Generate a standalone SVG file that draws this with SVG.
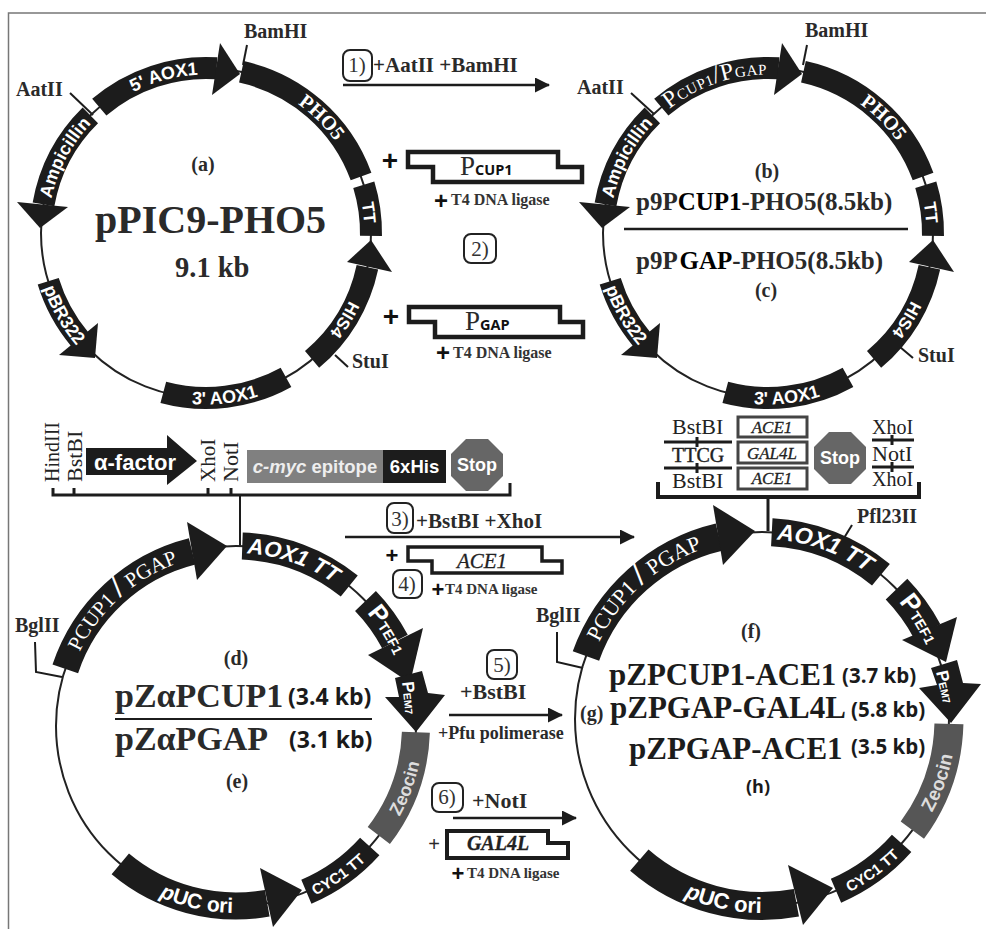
<svg xmlns="http://www.w3.org/2000/svg" width="986" height="929" viewBox="0 0 986 929">
<style>
text{font-family:"Liberation Serif","Times New Roman",serif;fill:#2a2a2a}
.b{font-weight:700}
.site{font-weight:700;font-size:20px}
.reg{font-weight:400;font-size:22px;fill:#222}
.ab{font-weight:700;font-size:20px;text-anchor:middle}
.big{font-weight:700;font-size:31px;fill:#1c1c1c}
.kb{font-family:"Open Sans","Liberation Sans",sans-serif;font-weight:700;fill:#1a1a1a}
.step{font-weight:700;font-size:21px}
.num{font-size:21px;text-anchor:middle;fill:#333}
.lig{font-weight:700;font-size:16px;fill:#333}
.plus{font-family:"Liberation Sans",Arial,sans-serif;font-weight:700;font-size:28px;text-anchor:middle;fill:#111}
.frag-t{font-style:italic;font-size:21px;text-anchor:middle;fill:#222;stroke:#222;stroke-width:.3}
.os{font-family:"Open Sans","Liberation Sans",sans-serif;font-weight:700;fill:#111}
.ring{fill:none;stroke:#222;stroke-width:2}
.band{fill:none;stroke:#1c1c1c}
.zeo{fill:none;stroke:#565656}
.head{fill:#1c1c1c;stroke:none}
.w{font-family:"Liberation Sans",Arial,sans-serif;font-weight:700;fill:#fff;text-anchor:middle}
.ws{font-family:"Liberation Serif","Times New Roman",serif;font-weight:400;fill:#fff;text-anchor:middle}
.wb{font-family:"Liberation Serif","Times New Roman",serif;font-weight:700;fill:#fff;text-anchor:middle}
.line{stroke:#1c1c1c;stroke-width:2;fill:none}
.rule{stroke:#1c1c1c;stroke-width:3;fill:none}
.arrow{stroke:#1c1c1c;stroke-width:2.5;fill:none;marker-end:url(#tip)}
.badge{fill:none;stroke:#222;stroke-width:2}
.frag{fill:#fff;stroke:#1c1c1c;stroke-width:4.5}
.box{fill:#fff;stroke:#444;stroke-width:3}
.stop{fill:#666}
</style>
<defs>
<marker id="tip" markerUnits="userSpaceOnUse" markerWidth="16" markerHeight="16" refX="14" refY="7.5" orient="auto"><path d="M0,0 L15,7.5 L0,15 Z" fill="#1c1c1c"/></marker>
<path id="cwA" d="M0,158.5 A158.5,158.5 0 1 1 0,-158.5 A158.5,158.5 0 1 1 0,158.5"/>
<path id="ccA" d="M0,-171.5 A171.5,171.5 0 1 0 0,171.5 A171.5,171.5 0 1 0 0,-171.5"/>
<path id="cwD" d="M0,173 A173,173 0 1 1 0,-173 A173,173 0 1 1 0,173"/>
<path id="ccD" d="M0,-187 A187,187 0 1 0 0,187 A187,187 0 1 0 0,-187"/>
<path id="cwF" d="M0,180 A180,180 0 1 1 0,-180 A180,180 0 1 1 0,180"/>
<path id="ccF" d="M0,-194 A194,194 0 1 0 0,194 A194,194 0 1 0 0,-194"/>
</defs>
<rect width="986" height="929" fill="#fff"/>
<path d="M986,13 H8.500 V929" fill="none" stroke="#777" stroke-width="1.500"/>

<g id="connectors">
<line class="arrow" x1="343" y1="85" x2="549" y2="85"/>
<line class="arrow" x1="345" y1="537" x2="634" y2="537"/>
<line class="arrow" x1="449" y1="715" x2="562" y2="715"/>
<line class="arrow" x1="453" y1="818" x2="576" y2="818"/>
<path class="rule" d="M53,488 V495 H510 V483 M74,488 V495 M208,488 V495 M231,488 V495"/>
<line class="line" x1="240" y1="495" x2="240" y2="546"/>
<path class="rule" style="stroke-width:4" d="M658,482 V497 H919 V482"/>
<line class="rule" x1="768" y1="497" x2="768" y2="531"/>
<path class="line" d="M35,642 L36,672 L62,677"/>
<path class="line" d="M557,632 L557,662 L583,668"/>
<line class="line" x1="70" y1="93" x2="93" y2="115"/>
<line class="line" x1="247" y1="45" x2="243" y2="65"/>
<line class="line" x1="335" y1="355" x2="348" y2="367"/>
<line class="line" x1="631" y1="93" x2="654" y2="114"/>
<line class="line" x1="807" y1="45" x2="803" y2="65"/>
<line class="line" x1="900" y1="347" x2="913" y2="358"/>
<line class="line" x1="852" y1="525" x2="844" y2="538"/>
</g>

<g id="plasmid-a" transform="translate(206,233)">
<circle class="ring" r="165"/>
<g id="a-5aox1"><circle class="band" r="165" stroke-width="22" pathLength="360" stroke-dasharray="44 360" transform="rotate(229.700)"/><polygon class="head" points="14,-190 34,-159 6,-138"/><text class="w" font-size="18"><textPath href="#cwA" startOffset="45.800%">5' AOX1</textPath></text></g>
<g id="a-pho5"><circle class="band" r="165" stroke-width="22" pathLength="360" stroke-dasharray="57.600 360" transform="rotate(-77.600)"/><text class="wb" font-size="20"><textPath href="#cwA" startOffset="62.500%">PHO5</textPath></text></g>
<g id="a-tt"><circle class="band" r="165" stroke-width="22" pathLength="360" stroke-dasharray="18 360" transform="rotate(-17)"/><text class="w" font-size="17"><textPath href="#cwA" startOffset="73%">TT</textPath></text></g>
<g id="a-his4"><circle class="band" r="165" stroke-width="22" pathLength="360" stroke-dasharray="38 360" transform="rotate(12)"/><polygon class="head" points="165,7 141,29 186,39"/><text class="w" font-size="17"><textPath href="#cwA" startOffset="83.900%">HIS4</textPath></text></g>
<g id="a-3aox1"><circle class="band" r="165" stroke-width="22" pathLength="360" stroke-dasharray="44 360" transform="rotate(61)"/><text class="w" font-size="18"><textPath href="#ccA" startOffset="51.800%">3' AOX1</textPath></text></g>
<g id="a-pbr322"><circle class="band" r="165" stroke-width="22" pathLength="360" stroke-dasharray="23 360" transform="rotate(140)"/><polygon class="head" points="-108,90 -111,125 -147,122"/><text class="w" font-size="18"><textPath href="#ccA" startOffset="33.300%">pBR322</textPath></text></g>
<g id="a-amp"><circle class="band" r="165" stroke-width="22" pathLength="360" stroke-dasharray="35.500 360" transform="rotate(190)"/><polygon class="head" points="-189,-31 -166,-5 -138,-26"/><text class="w" font-size="18"><textPath href="#cwA" startOffset="32.800%">Ampicillin</textPath></text></g>
</g>
<g id="labels-a">
<text class="site" x="244" y="38">BamHI</text>
<text class="site" x="16" y="96">AatII</text>
<text class="site" x="352" y="368">StuI</text>
<text class="ab" x="203" y="171">(a)</text>
<text class="b" x="95" y="233" font-size="40">pPIC9-PHO5</text>
<text class="b" x="175" y="277" font-size="28.500">9.1 kb</text>
</g>

<g id="plasmid-b" transform="translate(768,233)">
<circle class="ring" r="165"/>
<g id="b-promoter"><circle class="band" r="165" stroke-width="22" pathLength="360" stroke-dasharray="44 360" transform="rotate(229.700)"/><polygon class="head" points="14,-190 34,-159 6,-138"/><text class="ws" font-size="15" letter-spacing=".5"><textPath href="#cwA" startOffset="44.600%"><tspan font-size="24">P</tspan>CUP1<tspan font-size="26">/</tspan><tspan font-size="24">P</tspan>GAP</textPath></text></g>
<g id="b-pho5"><circle class="band" r="165" stroke-width="22" pathLength="360" stroke-dasharray="57.600 360" transform="rotate(-77.600)"/><text class="wb" font-size="20"><textPath href="#cwA" startOffset="62.500%">PHO5</textPath></text></g>
<g id="b-tt"><circle class="band" r="165" stroke-width="22" pathLength="360" stroke-dasharray="18 360" transform="rotate(-17)"/><text class="w" font-size="17"><textPath href="#cwA" startOffset="73%">TT</textPath></text></g>
<g id="b-his4"><circle class="band" r="165" stroke-width="22" pathLength="360" stroke-dasharray="38 360" transform="rotate(12)"/><polygon class="head" points="165,7 141,29 186,39"/><text class="w" font-size="17"><textPath href="#cwA" startOffset="83.900%">HIS4</textPath></text></g>
<g id="b-3aox1"><circle class="band" r="165" stroke-width="22" pathLength="360" stroke-dasharray="44 360" transform="rotate(61)"/><text class="w" font-size="18"><textPath href="#ccA" startOffset="51.800%">3' AOX1</textPath></text></g>
<g id="b-pbr322"><circle class="band" r="165" stroke-width="22" pathLength="360" stroke-dasharray="23 360" transform="rotate(140)"/><polygon class="head" points="-108,90 -111,125 -147,122"/><text class="w" font-size="18"><textPath href="#ccA" startOffset="33.300%">pBR322</textPath></text></g>
<g id="b-amp"><circle class="band" r="165" stroke-width="22" pathLength="360" stroke-dasharray="35.500 360" transform="rotate(190)"/><polygon class="head" points="-189,-31 -166,-5 -138,-26"/><text class="w" font-size="18"><textPath href="#cwA" startOffset="32.800%">Ampicillin</textPath></text></g>
</g>
<g id="labels-b">
<text class="site" x="805" y="37">BamHI</text>
<text class="site" x="577" y="94">AatII</text>
<text class="site" x="918" y="362">StuI</text>
<text class="ab" x="767" y="178">(b)</text>
<text class="b" x="636" y="210" font-size="25">p9P<tspan fill="#000">CUP1</tspan>-PHO5(8.5kb)</text>
<line class="line" style="stroke-width:2.500" x1="624" y1="229" x2="908" y2="229"/>
<text class="b" x="636" y="269" font-size="25">p9P <tspan fill="#000" dx="-3">GAP</tspan>-PHO5(8.5kb)</text>
<text class="ab" x="766" y="297">(c)</text>
</g>

<g id="step-1">
<rect class="badge" x="343" y="50" width="29" height="31" rx="7"/>
<text class="num" x="357" y="72">1)</text>
<text class="step" x="373" y="72">+AatII +BamHI</text>
</g>
<g id="fragment-pcup1">
<text class="plus" x="390" y="170">+</text>
<polygon class="frag" points="408,152 558,152 558,167 582,167 582,182 433,182 433,167 408,167"/>
<text x="460" y="175" font-size="27" fill="#333">P</text>
<text class="os" x="475" y="175" font-size="14.500">CUP1</text>
<text class="plus" x="441" y="209" style="font-size:24px">+</text>
<text class="lig" x="451" y="205">T4 DNA ligase</text>
</g>
<g id="step-2">
<rect class="badge" x="464" y="234" width="32" height="29" rx="7"/>
<text class="num" x="480" y="256">2)</text>
</g>
<g id="fragment-pgap">
<text class="plus" x="391" y="326">+</text>
<polygon class="frag" points="409,307 560,307 560,322 583,322 583,337 435,337 435,322 409,322"/>
<text x="465" y="330" font-size="27" fill="#333">P</text>
<text class="os" x="480" y="330" font-size="14.500">GAP</text>
<text class="plus" x="443" y="361" style="font-size:24px">+</text>
<text class="lig" x="453" y="358">T4 DNA ligase</text>
</g>

<g id="cassette-d">
<g id="d-sites">
<text class="reg" style="font-size:20px" transform="translate(59,482) rotate(-90)">HindIII</text>
<text class="reg" transform="translate(82,482) rotate(-90)">BstBI</text>
<text class="reg" style="font-size:21px" transform="translate(215,482) rotate(-90)">XhoI</text>
<text class="reg" transform="translate(238,482) rotate(-90)">NotI</text>
</g>
<g id="d-alpha"><polygon class="head" points="86,448 167,448 167,435 197,461 167,485 167,475 86,475"/><text class="w" x="135" y="470" font-size="22">α-factor</text></g>
<g id="d-myc"><rect x="247" y="450" width="136" height="33" fill="#808080"/><text class="w" x="315" y="473" font-size="18.500" style="fill:#eee"><tspan font-style="italic">c-myc</tspan> epitope</text></g>
<g id="d-his"><rect x="383" y="450" width="63" height="33" fill="#1c1c1c"/><text class="w" x="414.500" y="473" font-size="18.500">6xHis</text></g>
<g id="d-stop"><polygon class="stop" points="466,439 488,439 503,454 503,476 488,491 466,491 451,476 451,454"/><text class="w" x="477" y="471" font-size="18">Stop</text></g>
</g>

<g id="plasmid-d" transform="translate(236,726)">
<circle class="ring" r="180"/>
<g id="d-promoter"><circle class="band" r="180" stroke-width="27" pathLength="360" stroke-dasharray="57.400 360" transform="rotate(198.500)"/><polygon class="head" points="-49,-204 -9,-180 -39,-146"/><text class="ws" font-size="21"><textPath href="#cwD" startOffset="38.300%">PCUP1 <tspan font-size="32" font-weight="700">/</tspan> PGAP</textPath></text></g>
<g id="d-aox1tt"><circle class="band" r="180" stroke-width="27" pathLength="360" stroke-dasharray="37 360" transform="rotate(-88)"/><text class="w" font-size="22" font-style="italic"><textPath href="#cwD" startOffset="55.300%">AOX1 TT</textPath></text></g>
<g id="d-ptef1"><circle class="band" r="180" stroke-width="29" pathLength="360" stroke-dasharray="16 360" transform="rotate(-44)"/><polygon class="head" points="187,-98 174,-43 132,-71"/><text class="w" font-size="14"><textPath href="#cwD" startOffset="66%"><tspan font-size="25">P</tspan>TEF1</textPath></text></g>
<g id="d-pem7"><polygon class="head" points="159,-48 186,-55 192,-33 209,-31 180,6 149,-29 163,-29"/><text class="w" font-size="10.500" style="text-anchor:start" transform="translate(166,-44) rotate(84)"><tspan font-size="17">P</tspan>EM7</text></g>
<g id="d-zeocin"><circle class="zeo" r="180" stroke-width="28" pathLength="360" stroke-dasharray="35.500 360" transform="rotate(2)"/><text class="w" font-size="18" style="fill:#ddd"><textPath href="#ccD" startOffset="69.400%">Zeocin</textPath></text></g>
<g id="d-cyc1"><circle class="band" r="180" stroke-width="26" pathLength="360" stroke-dasharray="25 360" transform="rotate(42)"/><text class="w" font-size="15"><textPath href="#ccD" startOffset="59.600%">CYC1 TT</textPath></text></g>
<g id="d-puc"><circle class="band" r="180" stroke-width="27" pathLength="360" stroke-dasharray="50 360" transform="rotate(80)"/><polygon class="head" points="24,142 66,164 37,201"/><text class="w" font-size="21"><textPath href="#ccD" startOffset="46.500%"><tspan font-style="italic">p</tspan>UC ori</textPath></text></g>
</g>
<g id="labels-d">
<text class="site" x="15" y="632">BglII</text>
<text class="ab" x="236" y="665">(d)</text>
<text class="b" x="115" y="707" font-size="34">pZαPCUP1</text>
<text class="kb" x="288" y="705" font-size="23">(3.4 kb)</text>
<line class="line" x1="115" y1="719" x2="372" y2="719"/>
<text class="b" x="115" y="750" font-size="34">pZαPGAP</text>
<text class="kb" x="289" y="748" font-size="23">(3.1 kb)</text>
<text class="ab" x="237" y="788">(e)</text>
</g>

<g id="step-3">
<rect class="badge" x="387" y="503" width="26" height="30" rx="7"/>
<text class="num" x="400" y="526">3)</text>
<text class="step" x="416" y="528">+BstBI +XhoI</text>
</g>
<g id="fragment-ace1">
<text class="plus" x="392" y="563" style="font-size:22px">+</text>
<polygon class="frag" style="stroke-width:3.500" points="408,547 542,547 542,561 562,561 562,573 432,573 432,561 408,561"/>
<text class="frag-t" x="482" y="568">ACE1</text>
</g>
<g id="step-4">
<rect class="badge" x="393" y="570" width="29" height="28" rx="7"/>
<text class="num" x="407" y="591">4)</text>
<text class="plus" x="438" y="597" style="font-size:22px">+</text>
<text class="lig" x="445" y="594" style="font-size:15px">T4 DNA ligase</text>
</g>
<g id="step-5">
<rect class="badge" x="487" y="650" width="30" height="29" rx="7"/>
<text class="num" x="502" y="672">5)</text>
<text class="step" x="460" y="699" style="font-size:22px">+BstBI</text>
<text class="b" x="438" y="739" font-size="18">+Pfu polimerase</text>
</g>
<g id="step-6">
<rect class="badge" x="432" y="783" width="31" height="29" rx="7"/>
<text class="num" x="447" y="804">6)</text>
<text class="step" x="472" y="808" style="font-size:22px">+NotI</text>
</g>
<g id="fragment-gal4l">
<text x="434" y="851" font-size="20" text-anchor="middle" style="font-family:'Liberation Sans',sans-serif">+</text>
<polygon class="frag" style="stroke-width:4" points="447,831 548,831 548,843 568,843 568,858 447,858"/>
<text class="frag-t" x="498" y="850" style="font-weight:700;font-size:20px">GAL4L</text>
<text class="plus" x="458" y="881" style="font-size:22px">+</text>
<text class="lig" x="467" y="878" style="font-size:15px">T4 DNA ligase</text>
</g>

<g id="cassette-f">
<text class="reg" x="672" y="434">BstBI</text>
<path class="rule" d="M664,442 H732 M697,437 V447"/>
<text class="reg" x="672" y="462" style="font-size:20px;stroke:#222;stroke-width:.4">TTCG</text>
<path class="rule" d="M664,468 H732 M697,463 V473"/>
<text class="reg" x="672" y="488">BstBI</text>
<g id="f-ace1-a"><rect class="box" x="738" y="417" width="69" height="20"/><text class="frag-t" x="772" y="433" style="font-size:17px">ACE1</text></g>
<g id="f-gal4l"><rect class="box" x="738" y="442" width="69" height="21"/><text class="frag-t" x="772" y="459" style="font-size:17px">GAL4L</text></g>
<g id="f-ace1-b"><rect class="box" x="738" y="468" width="69" height="21"/><text class="frag-t" x="772" y="484" style="font-size:17px">ACE1</text></g>
<g id="f-stop"><polygon class="stop" points="829,432 851,432 866,447 866,469 851,484 829,484 814,469 814,447"/><text class="w" x="840" y="464" font-size="18">Stop</text></g>
<text class="reg" x="872" y="434" style="font-size:20px">XhoI</text>
<path class="rule" d="M872,440 H914 M892,435 V445"/>
<text class="reg" x="872" y="461">NotI</text>
<path class="rule" d="M872,467 H914 M892,462 V472"/>
<text class="reg" x="872" y="486" style="font-size:20px">XhoI</text>
</g>

<g id="plasmid-f" transform="translate(762,719)">
<circle class="ring" r="187"/>
<g id="f-promoter"><circle class="band" r="187" stroke-width="28" pathLength="360" stroke-dasharray="57 360" transform="rotate(199.700)"/><polygon class="head" points="-49,-214 -7,-188 -39,-154"/><text class="ws" font-size="22"><textPath href="#cwF" startOffset="38.300%">PCUP1 <tspan font-size="33" font-weight="700">/</tspan> PGAP</textPath></text></g>
<g id="f-aox1tt"><circle class="band" r="187" stroke-width="28" pathLength="360" stroke-dasharray="36.500 360" transform="rotate(-87)"/><text class="w" font-size="23" font-style="italic"><textPath href="#cwF" startOffset="55.600%">AOX1 TT</textPath></text></g>
<g id="f-ptef1"><circle class="band" r="187" stroke-width="30" pathLength="360" stroke-dasharray="16 360" transform="rotate(-44)"/><polygon class="head" points="195,-102 184,-57 140,-79"/><text class="w" font-size="14"><textPath href="#cwF" startOffset="66%"><tspan font-size="26">P</tspan>TEF1</textPath></text></g>
<g id="f-pem7"><polygon class="head" points="169,-51 195,-59 201,-36 219,-35 189,4 157,-31 175,-34"/><text class="w" font-size="10.500" style="text-anchor:start" transform="translate(174,-47) rotate(77)"><tspan font-size="17">P</tspan>EM7</text></g>
<g id="f-zeocin"><circle class="zeo" r="187" stroke-width="29" pathLength="360" stroke-dasharray="35 360" transform="rotate(1.500)"/><text class="w" font-size="19" style="fill:#ddd"><textPath href="#ccF" startOffset="69.500%">Zeocin</textPath></text></g>
<g id="f-cyc1"><circle class="band" r="187" stroke-width="26" pathLength="360" stroke-dasharray="25 360" transform="rotate(41.700)"/><text class="w" font-size="15"><textPath href="#ccF" startOffset="60%">CYC1 TT</textPath></text></g>
<g id="f-puc"><circle class="band" r="187" stroke-width="28" pathLength="360" stroke-dasharray="51.600 360" transform="rotate(79.400)"/><polygon class="head" points="26,146 71,169 41,206"/><text class="w" font-size="22"><textPath href="#ccF" startOffset="46.700%"><tspan font-style="italic">p</tspan>UC ori</textPath></text></g>
</g>
<g id="labels-f">
<text class="site" x="536" y="622">BglII</text>
<text class="site" x="857" y="523">Pfl23II</text>
<text class="ab" x="751" y="638">(f)</text>
<text class="big" x="609" y="685">pZPCUP1-ACE1</text>
<text class="kb" x="842" y="683" font-size="20.500">(3.7 kb)</text>
<text class="site" x="580" y="720">(g)</text>
<text class="big" x="610" y="718">pZPGAP-GAL4L</text>
<text class="kb" x="851" y="717" font-size="20.500">(5.8 kb)</text>
<text class="big" x="629" y="759">pZPGAP-ACE1</text>
<text class="kb" x="851" y="754" font-size="20.500">(3.5 kb)</text>
<text class="kb" x="758" y="793" font-size="18" text-anchor="middle">(h)</text>
</g>
</svg>
